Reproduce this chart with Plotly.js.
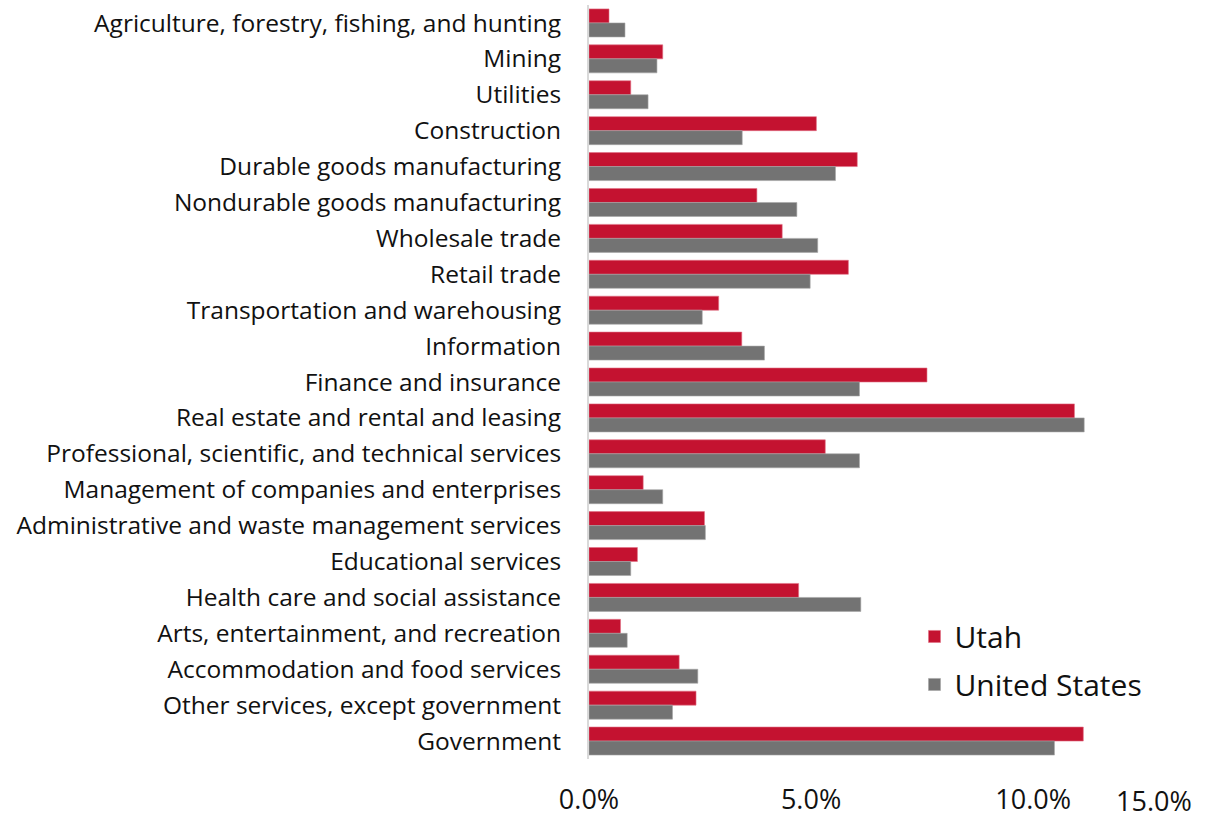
<!DOCTYPE html>
<html>
<head>
<meta charset="utf-8">
<script src="https://cdn.plot.ly/plotly-3.0.1.min.js"></script>
<style>
  html, body { margin: 0; padding: 0; background: #ffffff; }
  #chart { width: 1209px; height: 819px; }
</style>
</head>
<body>
<div id="chart"></div>
<script>
const industries = [
  "Agriculture, forestry, fishing, and hunting",
  "Mining",
  "Utilities",
  "Construction",
  "Durable goods manufacturing",
  "Nondurable goods manufacturing",
  "Wholesale trade",
  "Retail trade",
  "Transportation and warehousing",
  "Information",
  "Finance and insurance",
  "Real estate and rental and leasing",
  "Professional, scientific, and technical services",
  "Management of companies and enterprises",
  "Administrative and waste management services",
  "Educational services",
  "Health care and social assistance",
  "Arts, entertainment, and recreation",
  "Accommodation and food services",
  "Other services, except government",
  "Government"
];
const utahShare = [0.0045, 0.0166, 0.0094, 0.0512, 0.0604, 0.0378, 0.0435, 0.0584, 0.0292, 0.0344,
                   0.0761, 0.1093, 0.0532, 0.0122, 0.0260, 0.0109, 0.0472, 0.0071, 0.0203, 0.0241, 0.1113];
const usShare   = [0.0081, 0.0153, 0.0133, 0.0345, 0.0555, 0.0468, 0.0515, 0.0498, 0.0255, 0.0395,
                   0.0609, 0.1115, 0.0609, 0.0166, 0.0262, 0.0094, 0.0612, 0.0086, 0.0245, 0.0188, 0.1048];
const tickValues = [0, 0.05, 0.10];
const lastTickLabel = "15.0%";

const fontFam = "Open Sans, Noto Sans, sans-serif";

const traces = [
  {
    type: "bar", orientation: "h", name: "Utah",
    y: industries, x: utahShare,
    marker: { color: "#C41230", line: { color: "#E07085", width: 0.6 } },
    legendgroup: "utah", hoverinfo: "x+y"
  },
  {
    type: "bar", orientation: "h", name: "United States",
    y: industries, x: usShare,
    marker: { color: "#737373", line: { color: "#A6A6A6", width: 0.6 } },
    legendgroup: "us", hoverinfo: "x+y"
  }
];

const layout = {
  width: 1209, height: 819,
  margin: { l: 589, r: 0, t: 5, b: 60, pad: 0 },
  paper_bgcolor: "#ffffff", plot_bgcolor: "#ffffff",
  barmode: "group", bargap: 0.22, bargroupgap: 0,
  font: { family: fontFam, color: "#111111" },
  xaxis: {
    range: [0, 0.1396],
    tickvals: tickValues, tickformat: ".1%",
    showgrid: false, zeroline: false, showline: false,
    ticks: "", ticklabelstandoff: 22,
    tickfont: { size: 27, family: fontFam, color: "#111111" }
  },
  yaxis: {
    type: "category", autorange: "reversed",
    showgrid: false, zeroline: false,
    showline: true, linecolor: "#D9D9D9", linewidth: 2,
    ticks: "", ticklabelstandoff: 21,
    tickfont: { size: 24.5, family: fontFam, color: "#111111" }
  },
  legend: {
    x: 0.525, y: 0.197, xanchor: "left", yanchor: "top",
    traceorder: "grouped", tracegroupgap: 6,
    font: { size: 30, family: fontFam, color: "#111111" },
    bgcolor: "rgba(0,0,0,0)"
  },
  annotations: [
    {
      xref: "paper", yref: "paper", x: 0.911, y: 0, yshift: -41,
      xanchor: "center", yanchor: "middle",
      text: lastTickLabel, showarrow: false,
      font: { size: 27, family: fontFam, color: "#111111" }
    }
  ],
  showlegend: true
};

Plotly.newPlot("chart", traces, layout, { displayModeBar: false, staticPlot: true });
</script>
</body>
</html>
